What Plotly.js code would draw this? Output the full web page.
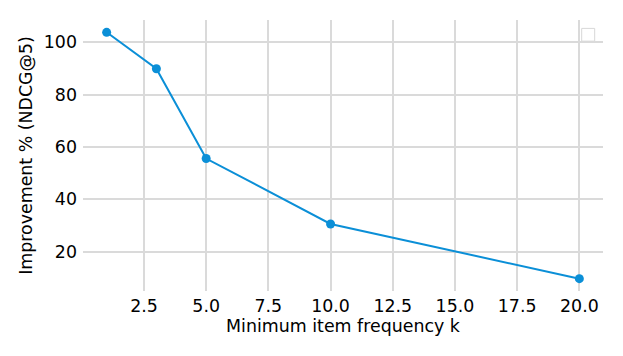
<!DOCTYPE html>
<html>
<head>
<meta charset="utf-8">
<script src="https://cdn.plot.ly/plotly-3.0.1.min.js"></script>
<style>
  html, body { margin: 0; padding: 0; background: #ffffff; }
  #chart { width: 623px; height: 356px; }
</style>
</head>
<body>
<div id="chart"></div>
<script>
const minFrequency = [1, 3, 5, 10, 20];
const improvementPct = [103.8, 89.9, 55.6, 30.6, 9.7];

const gridColor = "#dadada";
const lineColor = "#0b8fd7";

Plotly.newPlot(
  "chart",
  [
    {
      type: "scatter",
      mode: "lines+markers",
      x: minFrequency,
      y: improvementPct,
      line: { color: lineColor, width: 2 },
      marker: { color: lineColor, size: 9 },
      showlegend: false,
    },
  ],
  {
    width: 623,
    height: 356,
    paper_bgcolor: "#ffffff",
    plot_bgcolor: "#ffffff",
    margin: { l: 83, r: 20, t: 20, b: 65 },
    font: { family: "DejaVu Sans", size: 17.4, color: "#000000" },
    xaxis: {
      title: { text: "Minimum item frequency k", font: { size: 17.4 }, standoff: 4 },
      range: [0.05, 20.95],
      tick0: 0,
      dtick: 2.5,
      tickformat: ".1f",
      showgrid: true,
      gridcolor: gridColor,
      gridwidth: 2,
      zeroline: false,
      showline: false,
      ticks: "",
      ticklabelstandoff: 3,
    },
    yaxis: {
      title: { text: "Improvement % (NDCG@5)", font: { size: 17.4 }, standoff: 6 },
      range: [5.0, 108.5],
      tick0: 0,
      dtick: 20,
      showgrid: true,
      gridcolor: gridColor,
      gridwidth: 2,
      zeroline: false,
      showline: false,
      ticks: "",
      ticklabelstandoff: 5,
    },
    shapes: [
      {
        type: "rect",
        xref: "paper",
        yref: "paper",
        x0: 0.959,
        x1: 0.984,
        y0: 0.922,
        y1: 0.969,
        line: { color: "#d8d8d8", width: 1 },
        fillcolor: "rgba(255,255,255,0.8)",
      },
    ],
  },
  { displayModeBar: false, staticPlot: true }
);
</script>
</body>
</html>
